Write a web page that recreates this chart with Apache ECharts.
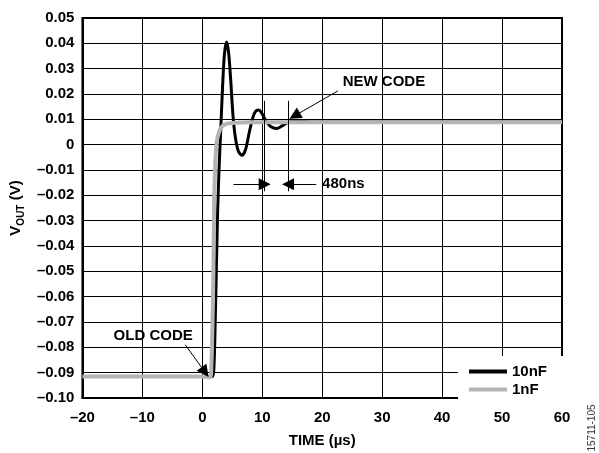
<!DOCTYPE html>
<html>
<head>
<meta charset="utf-8">
<script src="https://cdn.jsdelivr.net/npm/echarts@6/dist/echarts.min.js"></script>
<style>html,body{margin:0;padding:0;background:#fff;}#c{width:599px;height:453px;}</style>
</head>
<body>
<div id="c"></div>
<script>
// Time axis (µs) and values (V)
var tBlack = [-20, 0, 1.7, 1.95, 2.15, 2.35, 2.57, 2.85, 3.1, 3.4, 3.7, 4.05, 4.4, 4.75, 5.1, 5.5, 6.0, 6.6, 7.2, 7.8, 8.4, 8.9, 9.4, 9.9, 10.6, 11.4, 12.4, 13.3, 14.3, 15.5, 17, 20, 30, 40, 50, 60];
var vBlack = [-0.0915, -0.0915, -0.0915, -0.087, -0.07, -0.048, -0.025, -0.006, 0.0075, 0.024, 0.036, 0.0405, 0.036, 0.025, 0.012, 0.003, -0.0025, -0.0042, -0.002, 0.0045, 0.0105, 0.0132, 0.0137, 0.0125, 0.0095, 0.0072, 0.0064, 0.0074, 0.0088, 0.0093, 0.0091, 0.0089, 0.0089, 0.0089, 0.0089, 0.0089];
var tGray = [-20, 0, 1.3, 1.5, 1.7, 1.85, 1.96, 2.15, 2.4, 2.8, 3.3, 4.0, 5, 8, 20, 30, 40, 50, 60];
var vGray = [-0.0915, -0.0915, -0.0918, -0.088, -0.07, -0.05, -0.025, -0.008, 0.001, 0.005, 0.0072, 0.0082, 0.0086, 0.0088, 0.0088, 0.0088, 0.0088, 0.0088, 0.0088];
var seriesNames = ['10nF', '1nF'];
var xTickLabels = ['\u201320', '\u201310', '0', '10', '20', '30', '40', '50', '60'];
var yTickLabels = ['\u20130.10', '\u20130.09', '\u20130.08', '\u20130.07', '\u20130.06', '\u20130.05', '\u20130.04', '\u20130.03', '\u20130.02', '\u20130.01', '0', '0.01', '0.02', '0.03', '0.04', '0.05'];

// annotation anchors in data coordinates
var markerT1 = 10.4, markerT2 = 14.3, markerTop = 0.0173, markerBottom = -0.0184;
var dimY = -0.0156;
var dimLeftStart = 5.2, dimRightStart = 19.0;
var newCodeArrow = [[22.6, 0.0212], [15.4, 0.0114]];
var oldCodeArrow = [[-2.85, -0.079], [0.46, -0.0898]];
var newCodeText = [30.3, 0.0247];
var oldCodeText = [-8.2, -0.0754];
var nsText = [19.9, -0.0156];

var FONT = '"Liberation Sans", Arial, Helvetica, sans-serif';
function zip(a, b) { return a.map(function (v, i) { return [v, b[i]]; }); }

var chart = echarts.init(document.getElementById('c'), null, {renderer: 'canvas'});
var txt = {fontFamily: FONT, fontWeight: 'bold', fontSize: 15, color: '#000'};

chart.setOption({
  animation: false,
  backgroundColor: '#fff',
  grid: {left: 80, right: 37, top: 18, bottom: 51, show: true, borderColor: '#000', borderWidth: 2, backgroundColor: 'transparent'},
  xAxis: {
    type: 'value', min: -20, max: 60, interval: 10,
    name: 'TIME (\u00b5s)', nameLocation: 'middle', nameGap: 35,
    nameTextStyle: txt,
    axisLine: {show: true, onZero: false, lineStyle: {color: '#000', width: 2}},
    axisTick: {show: false},
    splitLine: {show: true, lineStyle: {color: '#000', width: 1}},
    axisLabel: Object.assign({}, txt, {margin: 12, formatter: function (v) { return xTickLabels[Math.round((v + 20) / 10)]; }})
  },
  yAxis: {
    type: 'value', min: -0.1, max: 0.05, interval: 0.01,
    name: '{a|V}{b|OUT}{a| (V)}', nameLocation: 'middle', nameGap: 56, nameRotate: 90,
    nameTextStyle: {rich: {
      a: {fontFamily: FONT, fontWeight: 'bold', fontSize: 15, color: '#000', verticalAlign: 'bottom'},
      b: {fontFamily: FONT, fontWeight: 'bold', fontSize: 10, color: '#000', verticalAlign: 'bottom', padding: [0, 0, -3, 0]}
    }},
    axisLine: {show: true, onZero: false, lineStyle: {color: '#000', width: 2}},
    axisTick: {show: false},
    splitLine: {show: true, lineStyle: {color: '#000', width: 1}},
    axisLabel: Object.assign({}, txt, {margin: 8, formatter: function (v) { return yTickLabels[Math.round((v + 0.1) / 0.01)]; }})
  },
  legend: {
    left: 458, top: 356, orient: 'vertical',
    padding: [7, 17, 5, 11], itemGap: 1, itemWidth: 38, itemHeight: 4,
    backgroundColor: '#fff', icon: 'rect',
    textStyle: Object.assign({}, txt, {lineHeight: 17}),
    data: seriesNames
  },
  series: [
    {name: seriesNames[0], type: 'line', data: zip(tBlack, vBlack), symbol: 'none', smooth: 0.3,
     lineStyle: {color: '#000', width: 3}, itemStyle: {color: '#000'}, z: 3},
    {name: seriesNames[1], type: 'line', data: zip(tGray, vGray), symbol: 'none', smooth: 0.3,
     lineStyle: {color: '#b4b4b4', width: 4}, itemStyle: {color: '#b4b4b4'}, z: 4},
    {name: 'annot', type: 'line', data: [], symbol: 'none', z: 6, silent: true,
     markLine: {
       silent: true, animation: false, symbolSize: 12,
       label: {show: false},
       lineStyle: {color: '#000', width: 1, type: 'solid'},
       emphasis: {disabled: true},
       data: [
         [{coord: [markerT1, markerTop], symbol: 'none'}, {coord: [markerT1, markerBottom], symbol: 'none'}],
         [{coord: [markerT2, markerTop], symbol: 'none'}, {coord: [markerT2, markerBottom], symbol: 'none'}],
         [{coord: [dimLeftStart, dimY], symbol: 'none'}, {coord: [markerT1, dimY], symbol: 'triangle'}],
         [{coord: [dimRightStart, dimY], symbol: 'none'}, {coord: [markerT2, dimY], symbol: 'triangle'}],
         [{coord: newCodeArrow[0], symbol: 'none'}, {coord: newCodeArrow[1], symbol: 'triangle'}],
         [{coord: oldCodeArrow[0], symbol: 'none'}, {coord: oldCodeArrow[1], symbol: 'triangle'}]
       ]
     },
     markPoint: {
       silent: true, symbol: 'rect', symbolSize: 1, itemStyle: {color: 'rgba(0,0,0,0)'},
       label: Object.assign({}, txt, {show: true, position: 'inside', formatter: '{b}'}),
       data: [
         {name: 'NEW CODE', coord: newCodeText},
         {name: 'OLD CODE', coord: oldCodeText},
         {name: '480ns', coord: nsText, label: {position: 'right', distance: 0}}
       ]
     }
    }
  ],
  graphic: [{
    type: 'text', x: 592, y: 428, rotation: Math.PI / 2,
    style: {text: '15711-105', fontFamily: FONT, fontSize: 10, fill: '#333', textAlign: 'center', textVerticalAlign: 'middle'}
  }]
});
</script>
</body>
</html>
